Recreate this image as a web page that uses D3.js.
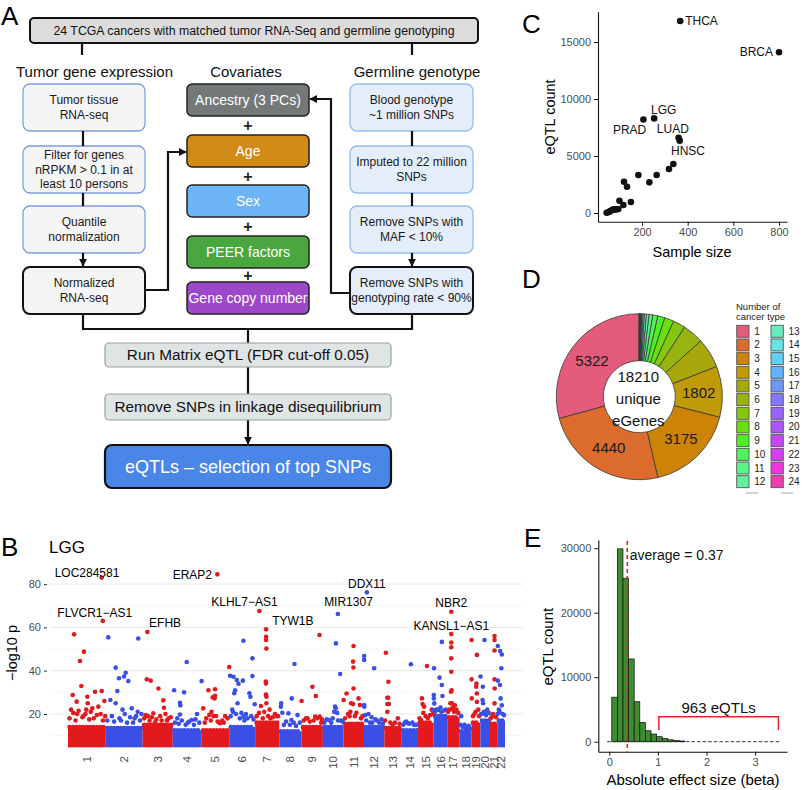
<!DOCTYPE html>
<html lang="en">
<head>
<meta charset="UTF-8">
<title>TCGA germline eQTL overview</title>
<script src="https://d3js.org/d3.v7.min.js"></script>
<style>
  body { margin: 0; background: #fff; }
  svg text { font-family: "Liberation Sans", Arial, Helvetica, sans-serif; }
</style>
</head>
<body>
<svg id="fig" width="805" height="790"></svg>
<script>
// ---------- data ----------
// A: pipeline text
const topStep = "24 TCGA cancers with matched tumor RNA-Seq and germline genotyping";
const columnTitles = ["Tumor gene expression", "Covariates", "Germline genotype"];
const expressionSteps = [["Tumor tissue", "RNA-seq"], ["Filter for genes", "nRPKM > 0.1 in at", "least 10 persons"], ["Quantile", "normalization"], ["Normalized", "RNA-seq"]];
const covariateNames = ["Ancestry (3 PCs)", "Age", "Sex", "PEER factors", "Gene copy number"];
const genotypeSteps = [["Blood genotype", "~1 million SNPs"], ["Imputed to 22 million", "SNPs"], ["Remove SNPs with", "MAF < 10%"], ["Remove SNPs with", "genotyping rate < 90%"]];
const pipelineSteps = ["Run Matrix eQTL (FDR cut-off 0.05)", "Remove SNPs in linkage disequilibrium", "eQTLs \u2013 selection of top SNPs"];

// C: sample size vs eQTL count, one point per cancer
const cancerLabels = ["THCA", "BRCA", "LGG", "PRAD", "LUAD", "HNSC", "", "", "", "", "", "", "", "", "", "", "", "", "", "", "", "", "", ""];
const sampleSizes = [367, 800, 253, 206, 360, 365, 337, 318, 264, 184, 232, 121, 134, 151, 101, 118, 45, 55, 63, 70, 75, 83, 89, 96];
const eqtlCounts = [16850, 14100, 8300, 8200, 6600, 6350, 4300, 3860, 3330, 3330, 2690, 2750, 2310, 965, 1080, 700, 30, 100, 200, 260, 320, 300, 330, 360];
const cTicksX = [200, 400, 600, 800];
const cTicksY = [0, 5000, 10000, 15000];

// D: eGenes by number of cancer types
const cancerTypeCounts = d3.range(1, 25);
const eGeneCounts = [5322, 4440, 3175, 1802, 1060, 740, 440, 330, 250, 180, 130, 95, 70, 50, 38, 28, 20, 14, 10, 7, 4, 3, 1, 1];
const uniqueEGenes = 18210;

// B: LGG Manhattan plot
const chrNames = ["1", "2", "3", "4", "5", "6", "7", "8", "9", "10", "11", "12", "13", "14", "15", "16", "17", "18", "19", "20", "21", "22"];
const chrLengths = [249, 243, 198, 191, 181, 171, 159, 146, 141, 136, 135, 134, 115, 107, 103, 90, 81, 78, 59, 63, 48, 51];
const chrBandTop = [14, 13.5, 15, 12.5, 12.5, 14, 16, 12, 14, 14, 15.5, 14, 13.5, 12.5, 16, 19, 18.5, 12, 16, 17, 15.5, 17];
const manhattanPeaks = [ // [chromosome, position (Mb), -log10 p]
  [1,40,56.8],[1,79,44.5],[1,105,48.8],[1,88,32.9],[1,31,28.8],[1,57,25.7],[1,127,28],[1,178,30.3],[1,222,30.6],[1,120,22],[1,160,22.6],[1,200,23.4],[1,130,25],[1,20,22],[1,60,20],[1,100,19],[1,240,26],
  [2,16,55.4],[2,214,54.9],[2,65,41.4],[2,131,39],[2,120,37.3],[2,148,35.2],[2,76,30.6],[2,87,36.5],[2,65,25],[2,110,22],[2,171,22.6],[2,210,21],[2,30,26.5],[2,190,18],[2,100,17],
  [3,27,36],[3,53,35.4],[3,104,31.8],[3,136,26.3],[3,140,22.9],[3,70,20.3],[3,20,19.5],[3,170,18],[3,90,17.5],
  [4,92,44],[4,75,30],[4,9,31],[4,48,25.2],[4,50,24],[4,48,19.8],[4,125,17.2],[4,100,16],[4,190,35.2],[4,160,20],[4,30,18],
  [5,44,31],[5,88,31.4],[5,85,27.2],[5,88,28.4],[5,10,22.6],[5,65,21],[5,95,19.1],[5,120,15.7],[5,154,19],[5,181,41.7],[5,72,27.7],[5,50,19.6],
  [6,94,53.8],[6,6,37.7],[6,28,37.2],[6,50,35.7],[6,61,34],[6,90,35.4],[6,39,31],[6,33,29.6],[6,133,29.6],[6,140,28],[6,153,45.7],[6,153,37.5],[6,168,24.5],[6,55,25],[6,94,18.8],[6,20,22],[6,110,20],
  [7,72,55.7],[7,72,54.2],[7,74,50.2],[7,70,35],[7,71,34.1],[7,71,29],[7,74,28],[7,38,23.7],[7,74,25],[7,142,19],[7,100,18],
  [8,100,43.1],[8,82,27.2],[8,12,24.9],[8,10,23.4],[8,20,20.6],[8,60,20.3],[8,80,17.2],[8,120,19.5],
  [9,119,56.5],[9,1,26],[9,72,32.6],[9,95,28.3],[9,90,18.8],[9,40,18],[9,120,18.8],[9,130,16],
  [10,86,52.6],[10,114,38.5],[10,80,23.4],[10,85,22.6],[10,75,21],[10,40,17.2],[10,95,20.5],[10,120,17],
  [11,66,51.4],[11,63,44.2],[11,65,41.5],[11,66,31.8],[11,20,29.5],[11,63,24.6],[11,50,25],[11,99,27.2],[11,108,24.1],[11,1,26.5],[11,40,19],
  [12,1,46.8],[12,1,45],[12,67,41.1],[12,1,24.1],[12,2,23.4],[12,8,19.5],[12,75,17.5],[12,55,16],[12,30,20],
  [13,10,48.3],[13,27,34.9],[13,20,27.5],[13,25,27.5],[13,20,24.6],[13,30,24.6],[13,89,18],[13,20,21],
  [14,60,43],[14,40,15.7],[14,80,15],[14,20,16],
  [15,59,42.2],[15,26,27.2],[15,30,24.6],[15,40,23.4],[15,20,17.2],[15,35,20.5],[15,90,22],
  [16,2,41.1],[16,1,28.8],[16,1,27.2],[16,4,24.9],[16,2,21.8],[16,54,53.3],[16,39,36.8],[16,54,33.4],[16,58,28.3],[16,50,21],[16,20,22],
  [17,26,53],[17,26,50.8],[17,26,45.7],[17,26,39.5],[17,24,30.3],[17,28,31],[17,30,25],[17,20,25],[17,40,22],[17,50,24],
  [18,10,19],[18,5,15],[18,32,15],[18,50,14],
  [19,1,54.2],[19,36,47.3],[19,1,36],[19,33,34.1],[19,31,32.6],[19,36,29.5],[19,2,27.2],[19,36,25.6],[19,45,22],
  [20,27,54.2],[20,1,37.3],[20,16,32.6],[20,14,26.5],[20,18,25],[20,30,20],[20,45,22],
  [21,30,56],[21,30,54.2],[21,30,49.3],[21,30,36],[21,31,31.8],[21,30,24.9],[21,20,20],
  [22,4,51.4],[22,19,49.1],[22,30,47.5],[22,27,41.1],[22,4,35.4],[22,18,33.4],[22,22,27.2],[22,30,24],[22,10,22]
];
const manhattanLow = [ // points just above the dense band [chromosome, position (Mb), -log10 p]
  [1,10,18],[1,35,20.5],[1,50,17],[1,70,21.5],[1,95,18.5],[1,115,20],[1,140,17.5],[1,150,21],[1,170,18],[1,190,19.5],[1,215,20],[1,230,17],[1,245,19],
  [2,10,17],[2,40,19],[2,55,16.5],[2,90,18],[2,125,20],[2,140,16],[2,160,18.5],[2,180,16],[2,200,19],[2,225,17],[2,235,20],
  [3,10,18],[3,35,19],[3,45,17],[3,60,18.5],[3,80,16],[3,115,19],[3,125,17],[3,150,20],[3,160,17],[3,185,18.5],
  [4,15,16],[4,40,15.5],[4,60,17],[4,85,15],[4,110,16.5],[4,140,15],[4,150,17.5],[4,175,16],
  [5,20,16],[5,30,18],[5,60,17],[5,78,19],[5,105,16.5],[5,135,17],[5,145,16],[5,170,18],
  [6,10,19],[6,25,21],[6,45,20],[6,70,18],[6,80,20.5],[6,100,17],[6,120,18],[6,145,19],[6,160,17.5],
  [7,10,19],[7,25,20.5],[7,50,18],[7,60,21],[7,85,19],[7,95,22],[7,115,18.5],[7,130,20],[7,150,19],
  [8,30,15],[8,45,16.5],[8,70,15],[8,95,16],[8,110,14.5],[8,135,16],
  [9,15,17],[9,30,18],[9,55,16.5],[9,80,17],[9,105,18],[9,135,17.5],
  [10,10,16],[10,25,17.5],[10,55,16],[10,65,18],[10,100,17],[10,130,16.5],
  [11,10,18],[11,30,20],[11,45,21],[11,75,19],[11,85,20.5],[11,115,18],[11,125,19],
  [12,15,17],[12,40,16],[12,50,18.5],[12,85,17],[12,100,16],[12,115,17.5],[12,125,15.5],
  [13,5,17],[13,40,16],[13,55,15],[13,70,16],[13,100,15.5],
  [14,10,15],[14,30,16.5],[14,50,15.5],[14,70,16],[14,95,15],
  [15,10,18],[15,50,19],[15,65,18],[15,80,19.5],[15,98,20],
  [16,10,21],[16,30,22],[16,45,23],[16,65,21.5],[16,80,22],
  [17,5,21],[17,15,22],[17,35,23],[17,45,21],[17,60,22],[17,72,20.5],
  [18,20,14],[18,40,13.5],[18,60,14.5],[18,70,13],
  [19,10,19],[19,20,20],[19,28,21],[19,50,19],
  [20,5,20],[20,22,21],[20,38,19.5],[20,55,20.5],
  [21,5,18],[21,15,19],[21,40,18.5],
  [22,2,20],[22,15,21],[22,35,20],[22,45,19.5]
];
const topGenes = ["LOC284581", "FLVCR1\u2212AS1", "EFHB", "ERAP2", "KLHL7\u2212AS1", "TYW1B", "MIR1307", "DDX11", "NBR2", "KANSL1\u2212AS1"];
const topGeneChr = [1, 1, 3, 5, 7, 7, 10, 12, 17, 17];
const topGenePos = [222, 229, 31, 103, 28, 72, 99, 19, 26, 26];
const topGeneP = [83, 63, 57.9, 84.5, 67.6, 59.1, 66.2, 76.2, 67.2, 56.9];
const bTicksY = [20, 40, 60, 80];

// E: histogram of absolute effect size
const effectBinStart = -0.065, effectBinWidth = 0.1155;
const effectCounts = [0, 6900, 29900, 25350, 12830, 6200, 3000, 1700, 1190, 780, 480, 300, 180, 110, 70, 45, 30, 20, 14, 10, 7, 5, 4, 3, 2, 2, 1, 1, 1, 1, 1];
const averageEffect = 0.37;
const largeEffectCount = 963;
const eTicksX = [0, 1, 2, 3];
const eTicksY = [0, 10000, 20000, 30000];

// ---------- drawing ----------
const svg = d3.select("#fig");
const INK = "#111";
const TICK_GRAY = "#4d4d4d";
const intFmt = d3.format("d");

function styleAxis(g) {
  g.select(".domain").attr("stroke", INK).attr("stroke-width", 1.1);
  g.selectAll(".tick line").attr("stroke", INK).attr("stroke-width", 1);
  g.selectAll(".tick text").attr("fill", TICK_GRAY).attr("font-size", 11)
    .attr("font-family", '"Liberation Sans", Arial, sans-serif');
}

function panelLetter(letter, x, y) {
  svg.append("text").attr("x", x).attr("y", y).attr("font-size", 26).attr("fill", "#000").text(letter);
}

function boxText(g, cx, cy, lines, size, color, lh) {
  const t = g.append("text").attr("text-anchor", "middle").attr("font-size", size).attr("fill", color);
  const off = -(lines.length - 1) / 2 * lh;
  lines.forEach((s, i) => t.append("tspan").attr("x", cx).attr("y", cy + off + i * lh).attr("dy", "0.35em").text(s));
}

svg.append("defs").append("marker")
  .attr("id", "arrow").attr("viewBox", "0 0 10 10").attr("refX", 9).attr("refY", 5)
  .attr("markerWidth", 3.6).attr("markerHeight", 3.6).attr("orient", "auto")
  .append("path").attr("d", "M0,0L10,5L0,10z").attr("fill", INK);

// ---- Panel A: flowchart ----
const gA = svg.append("g");
panelLetter("A", 1, 25);

gA.append("rect").attr("x", 30).attr("y", 18).attr("width", 448).attr("height", 25).attr("rx", 4)
  .attr("fill", "#dcdcdc").attr("stroke", INK).attr("stroke-width", 2);
boxText(gA, 254, 31, [topStep], 12.3, "#111", 0);

const connector = d3.line();
const drawLine = (pts, arrow) => {
  const p = gA.append("path").attr("d", connector(pts)).attr("fill", "none")
    .attr("stroke", INK).attr("stroke-width", 2.2);
  if (arrow) p.attr("marker-end", "url(#arrow)");
};
drawLine([[82, 43], [82, 55]]);
drawLine([[412, 43], [412, 55]]);

const titleX = [94.5, 246, 417];
columnTitles.forEach((t, i) => {
  gA.append("text").attr("x", titleX[i]).attr("y", 72).attr("dy", "0.35em")
    .attr("text-anchor", "middle").attr("font-size", 15).attr("fill", "#111").text(t);
});

const stepY = [84, 146, 206, 267], stepH = 47;
expressionSteps.forEach((lines, i) => {
  const last = i === expressionSteps.length - 1;
  gA.append("rect").attr("x", 23).attr("y", stepY[i]).attr("width", 122).attr("height", stepH).attr("rx", 7)
    .attr("fill", "#f5f5f5").attr("stroke", last ? INK : "#7f9de0").attr("stroke-width", last ? 2 : 1.3);
  boxText(gA, 84, stepY[i] + stepH / 2, lines, 12, "#1a1a1a", 14.5);
});
genotypeSteps.forEach((lines, i) => {
  const last = i === genotypeSteps.length - 1;
  gA.append("rect").attr("x", 350).attr("y", stepY[i]).attr("width", 123).attr("height", stepH).attr("rx", 7)
    .attr("fill", "#e4eefa").attr("stroke", last ? INK : "#92bdee").attr("stroke-width", last ? 2 : 1.3);
  boxText(gA, 411.5, stepY[i] + stepH / 2, lines, 12, "#1a1a1a", 14.5);
});
for (let i = 0; i < 3; i++) {
  drawLine([[83, stepY[i] + stepH], [83, stepY[i + 1] - (i === 2 ? 1 : 0)]], i === 2);
  drawLine([[412, stepY[i] + stepH], [412, stepY[i + 1] - (i === 2 ? 1 : 0)]], i === 2);
}

const covY = [84, 135, 185, 236, 282], covH = 32;
const covFill = ["#737979", "#d18a15", "#6db5f6", "#4aa740", "#9c48c8"];
covariateNames.forEach((name, i) => {
  gA.append("rect").attr("x", 187).attr("y", covY[i]).attr("width", 122).attr("height", covH).attr("rx", 5)
    .attr("fill", covFill[i]).attr("stroke", "#222").attr("stroke-width", 1.5);
  boxText(gA, 248, covY[i] + covH / 2, [name], 14, "#fff", 0);
  if (i < covariateNames.length - 1) {
    const mid = (covY[i] + covH + covY[i + 1]) / 2;
    gA.append("text").attr("x", 248).attr("y", mid).attr("dy", "0.35em").attr("text-anchor", "middle")
      .attr("font-size", 16).attr("font-weight", "bold").attr("fill", "#222").text("+");
  }
});

// feedback connectors into covariates
drawLine([[145, 290], [168, 290], [168, 152], [186, 152]], true);
drawLine([[350, 293], [331, 293], [331, 99], [310, 99]], true);
// merge into pipeline
drawLine([[83, 314], [83, 329], [412, 329], [412, 314]]);
drawLine([[248, 329], [248, 343]]);
drawLine([[248, 367], [248, 394]]);
drawLine([[248, 420], [248, 444]], true);

const pipeY = [343, 394, 445], pipeH = [24, 26, 43];
pipelineSteps.forEach((s, i) => {
  const last = i === pipelineSteps.length - 1;
  gA.append("rect").attr("x", 105).attr("y", pipeY[i]).attr("width", 286).attr("height", pipeH[i]).attr("rx", last ? 7 : 4)
    .attr("fill", last ? "#4a86e8" : "#dfe4e4").attr("stroke", last ? INK : "#98a0a0").attr("stroke-width", last ? 2.2 : 1.2);
  boxText(gA, 248, pipeY[i] + pipeH[i] / 2, [s], last ? 18 : 15.3, last ? "#fff" : "#111", 0);
});

// ---- Panel C: scatter ----
panelLetter("C", 522, 33);
const xC = d3.scaleLinear().domain([7, 835]).range([598, 787]);
const yC = d3.scaleLinear().domain([-760, 17660]).range([221.7, 11.7]);
const gC = svg.append("g");
gC.append("g").attr("transform", "translate(0,221.7)")
  .call(d3.axisBottom(xC).tickValues(cTicksX).tickFormat(intFmt).tickSize(4).tickPadding(3).tickSizeOuter(0)).call(styleAxis);
gC.append("g").attr("transform", "translate(598,0)")
  .call(d3.axisLeft(yC).tickValues(cTicksY).tickFormat(intFmt).tickSize(4).tickPadding(3).tickSizeOuter(0)).call(styleAxis);
gC.append("text").attr("x", 692).attr("y", 256.5).attr("text-anchor", "middle").attr("font-size", 14.5).text("Sample size");
gC.append("text").attr("transform", "translate(555,117) rotate(-90)").attr("text-anchor", "middle")
  .attr("font-size", 14.5).text("eQTL count");
gC.selectAll("circle.pt").data(sampleSizes).enter().append("circle")
  .attr("cx", d => xC(d)).attr("cy", (d, i) => yC(eqtlCounts[i])).attr("r", 3.3).attr("fill", INK);
// label placement around each labelled point [dx, dy, anchor]
const cLabelOffsets = { THCA: [5, 0, "start"], BRCA: [-6, 0, "end"], LGG: [9.5, -8.7, "middle"],
  PRAD: [-13.8, 10, "middle"], LUAD: [-5.7, -8.7, "middle"], HNSC: [8.3, 10, "middle"] };
cancerLabels.forEach((lab, i) => {
  if (!lab) return;
  const o = cLabelOffsets[lab];
  gC.append("text").attr("x", xC(sampleSizes[i]) + o[0]).attr("y", yC(eqtlCounts[i]) + o[1]).attr("dy", "0.35em")
    .attr("text-anchor", o[2]).attr("font-size", 12).attr("fill", INK).text(lab);
});

// ---- Panel D: donut ----
panelLetter("D", 522, 288);
const pieColors = ["#e45b7b", "#dc6c2e", "#cd8306", "#c19a08", "#a8a70c", "#97b411", "#83c80f", "#69e00c", "#4ef021", "#50f25b",
  "#5af484", "#62f09f", "#66eec0", "#66e3e3", "#64cff4", "#62b3fc", "#6e96ff", "#8279ff", "#9a63fc", "#ad54fb",
  "#c247f8", "#d83df4", "#ee35e4", "#f03cb0"];
const cx = 639.3, cy = 396.7;
const pie = d3.pie().sort(null).startAngle(0).endAngle(-2 * Math.PI);
const arcs = pie(eGeneCounts);
const arc = d3.arc().innerRadius(36).outerRadius(83);
const gD = svg.append("g").attr("transform", `translate(${cx},${cy})`);
gD.selectAll("path").data(arcs).enter().append("path")
  .attr("d", arc).attr("fill", (d, i) => pieColors[i]).attr("stroke", "#383838").attr("stroke-width", 0.8);
arcs.slice(0, 4).forEach(a => {
  const c = arc.centroid(a);
  gD.append("text").attr("x", c[0]).attr("y", c[1]).attr("dy", "0.35em").attr("text-anchor", "middle")
    .attr("font-size", 15).attr("fill", "#1a1a1a").text(a.data);
});
boxText(gD, -1, 2, [String(uniqueEGenes), "unique", "eGenes"], 15, "#111", 22.3);

const gL = svg.append("g");
gL.append("text").attr("x", 736).attr("y", 309.5).attr("font-size", 9.5).attr("fill", "#222").text("Number of");
gL.append("text").attr("x", 736).attr("y", 320).attr("font-size", 9.5).attr("fill", "#222").text("cancer type");
cancerTypeCounts.forEach((n, i) => {
  const col = Math.floor(i / 12), row = i % 12;
  const kx = col === 0 ? 736.7 : 771, ky = 331.3 + row * 13.67;
  gL.append("rect").attr("x", kx).attr("y", ky - 6).attr("width", 12.3).attr("height", 12)
    .attr("fill", pieColors[i]).attr("stroke", "#555").attr("stroke-width", 0.9);
  gL.append("text").attr("x", kx + 17.5).attr("y", ky).attr("dy", "0.35em").attr("font-size", 10)
    .attr("fill", "#222").text(n);
});
[[745.7, 758], [780.7, 793]].forEach(s => gL.append("line").attr("x1", s[0]).attr("x2", s[1])
  .attr("y1", 493).attr("y2", 493).attr("stroke", "#aaa").attr("stroke-width", 1));

// ---- Panel B: Manhattan ----
panelLetter("B", 1, 556);
const RED = "#e2191d", BLUE = "#3a4fe6";
const chrStart = [];
let genome = 0;
chrLengths.forEach(l => { chrStart.push(genome); genome += l; });
const xB = d3.scaleLinear().domain([0, genome]).range([68, 505]);
const yB = d3.scaleLinear().domain([0, 80]).range([757.3, 584.1]);
const gB = svg.append("g");
gB.append("text").attr("x", 49).attr("y", 552.5).attr("font-size", 17).attr("fill", "#000").text("LGG");
d3.range(10, 90, 10).forEach(v => {
  gB.append("line").attr("x1", 50).attr("x2", 523).attr("y1", yB(v)).attr("y2", yB(v))
    .attr("stroke", v % 20 === 0 ? "#e6e6e6" : "#f0f0f0").attr("stroke-width", v % 20 === 0 ? 0.9 : 0.6);
});
const yAxisB = gB.append("g").attr("transform", "translate(47,0)")
  .call(d3.axisLeft(yB).tickValues(bTicksY).tickSize(3).tickPadding(3)).call(styleAxis);
yAxisB.select(".domain").remove();
yAxisB.selectAll(".tick line").attr("stroke", "#333");
gB.append("text").attr("transform", "translate(17,653) rotate(-90)").attr("text-anchor", "middle")
  .attr("font-size", 14.5).text("\u2212log10 p");

const chrColor = c => (c % 2 === 1 ? RED : BLUE);
// dense low-significance band for every chromosome
chrLengths.forEach((len, i) => {
  const x0 = xB(chrStart[i]), x1 = xB(chrStart[i] + len), col = chrColor(i + 1);
  gB.append("rect").attr("x", x0).attr("y", yB(chrBandTop[i])).attr("width", x1 - x0)
    .attr("height", yB(4.6) - yB(chrBandTop[i])).attr("fill", col);
  gB.append("line").attr("x1", x0 + 1.5).attr("x2", x1 - 1).attr("y1", yB(chrBandTop[i])).attr("y2", yB(chrBandTop[i]))
    .attr("stroke", col).attr("stroke-width", 4.6).attr("stroke-linecap", "round").attr("stroke-dasharray", "0 3.4");
});
const peakX = d => xB(chrStart[d[0] - 1] + d[1]);
gB.selectAll("circle.peak").data(manhattanLow.concat(manhattanPeaks)).enter().append("circle")
  .attr("cx", peakX).attr("cy", d => yB(d[2])).attr("r", 2.3).attr("fill", d => chrColor(d[0]));
const geneOffsets = { "LOC284581": [-14.7, -4.4], "FLVCR1\u2212AS1": [-8, -8.6], "EFHB": [17.7, -9.2], "ERAP2": [-25, 0],
  "KLHL7\u2212AS1": [-15, -9.3], "TYW1B": [26.8, -8.7], "MIR1307": [10.6, -12.3], "DDX11": [0, -9],
  "NBR2": [0, -9.1], "KANSL1\u2212AS1": [0, -8.3] };
topGenes.forEach((g, i) => {
  const d = [topGeneChr[i], topGenePos[i], topGeneP[i]];
  gB.append("circle").attr("cx", peakX(d)).attr("cy", yB(d[2])).attr("r", 2.3).attr("fill", chrColor(d[0]));
  const o = geneOffsets[g];
  gB.append("text").attr("x", peakX(d) + o[0]).attr("y", yB(d[2]) + o[1]).attr("dy", "0.35em")
    .attr("text-anchor", "middle").attr("font-size", 12).attr("fill", "#000").text(g);
});
chrNames.forEach((n, i) => {
  const x = xB(chrStart[i] + chrLengths[i] / 2);
  gB.append("text").attr("transform", `translate(${x},756) rotate(-90)`).attr("dy", "0.35em")
    .attr("text-anchor", "end").attr("font-size", 11.5).attr("fill", TICK_GRAY).text(n);
});

// ---- Panel E: histogram ----
panelLetter("E", 524, 547);
const xE = d3.scaleLinear().domain([-0.226, 3.656]).range([598.3, 787]);
const yE = d3.scaleLinear().domain([-1550, 31270]).range([751.7, 540]);
const gE = svg.append("g");
effectCounts.forEach((c, i) => {
  const b0 = effectBinStart + i * effectBinWidth, b1 = b0 + effectBinWidth;
  gE.append("line").attr("x1", xE(b0) + 1).attr("x2", xE(b1) - 1).attr("y1", yE(0)).attr("y2", yE(0))
    .attr("stroke", "#222").attr("stroke-width", 0.9);
  if (yE(0) - yE(c) >= 0.5) {
    gE.append("rect").attr("x", xE(b0)).attr("y", yE(c)).attr("width", xE(b1) - xE(b0)).attr("height", yE(0) - yE(c))
      .attr("fill", "#3d8c2f").attr("stroke", INK).attr("stroke-width", 0.7);
  }
});
gE.append("g").attr("transform", "translate(0,751.7)")
  .call(d3.axisBottom(xE).tickValues(eTicksX).tickFormat(intFmt).tickSize(4).tickPadding(3).tickSizeOuter(0)).call(styleAxis);
gE.append("g").attr("transform", "translate(598.3,0)")
  .call(d3.axisLeft(yE).tickValues(eTicksY).tickFormat(intFmt).tickSize(4).tickPadding(3).tickSizeOuter(0)).call(styleAxis);
gE.append("line").attr("x1", xE(averageEffect)).attr("x2", xE(averageEffect)).attr("y1", 541).attr("y2", 751.7)
  .attr("stroke", "#e0262a").attr("stroke-width", 1.6).attr("stroke-dasharray", "4,3");
gE.append("text").attr("x", xE(averageEffect) + 2.5).attr("y", yE(28200)).attr("font-size", 14).attr("fill", "#111")
  .text(`average = ${averageEffect}`);
gE.append("path").attr("fill", "none").attr("stroke", "#e0262a").attr("stroke-width", 1.5)
  .attr("d", d3.line()([[xE(1.02), yE(1800)], [xE(1.02), yE(3880)], [xE(3.48), yE(3880)], [xE(3.48), yE(1800)]]));
gE.append("text").attr("x", xE(2.25)).attr("y", yE(4400)).attr("text-anchor", "middle").attr("font-size", 15)
  .attr("fill", "#111").text(`${largeEffectCount} eQTLs`);
gE.append("text").attr("x", 693).attr("y", 785).attr("text-anchor", "middle").attr("font-size", 15)
  .text("Absolute effect size (beta)");
gE.append("text").attr("transform", "translate(553,646.7) rotate(-90)").attr("text-anchor", "middle")
  .attr("font-size", 15).text("eQTL count");
</script>
</body>
</html>
